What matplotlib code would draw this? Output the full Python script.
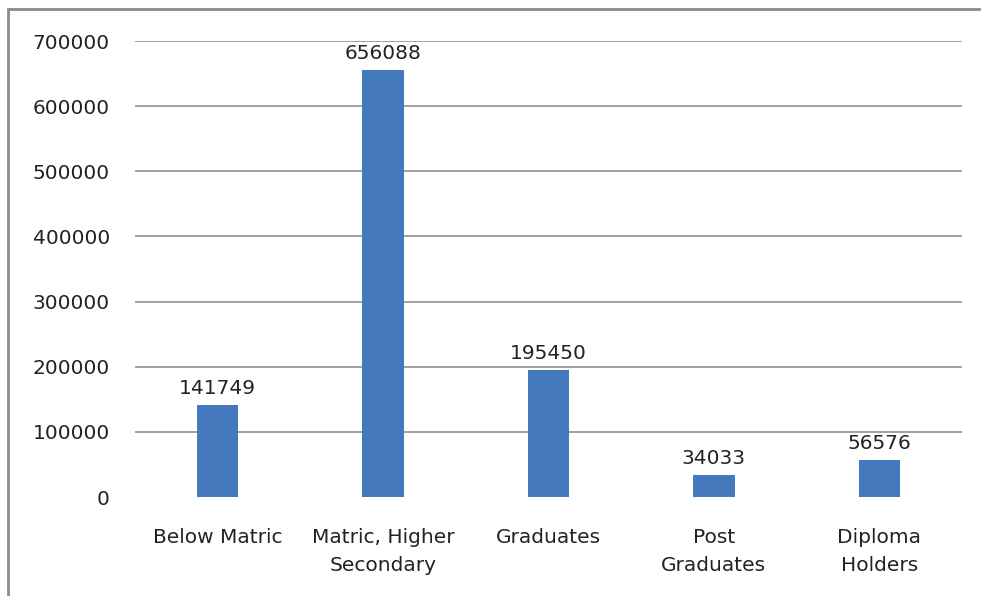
import matplotlib
matplotlib.use("Agg")
import matplotlib.pyplot as plt
from matplotlib.patches import Rectangle

categories = ["Below Matric", "Matric, Higher\nSecondary", "Graduates", "Post\nGraduates", "Diploma\nHolders"]
values = [141749, 656088, 195450, 34033, 56576]
yticks = [0, 100000, 200000, 300000, 400000, 500000, 600000, 700000]

plt.rcParams['font.family'] = ['DejaVu Sans']

fig = plt.figure(figsize=(9.81, 5.96), dpi=100)
ax = fig.add_axes([0.1376, 0.1661, 0.843, 0.7651])

x = list(range(len(categories)))
bars = ax.bar(x, values, width=0.25, color='#4479BD', zorder=3)
for b, v in zip(bars, values):
    ax.annotate(str(v), (b.get_x() + b.get_width() / 2, v), xytext=(0, 5),
                textcoords='offset points', ha='center', va='bottom',
                fontsize=14.5, color='#222222', zorder=4)

ax.set_xlim(-0.5, len(categories) - 0.5)
ax.set_ylim(0, 700000)
ax.set_yticks(yticks)
ax.set_yticklabels([str(t) for t in yticks], fontsize=14.5, color='#222222')
ax.set_xticks(x)
ax.set_xticklabels(categories, fontsize=14.5, color='#222222', linespacing=1.65)
ax.tick_params(axis='both', length=0)
ax.tick_params(axis='y', pad=18)
ax.tick_params(axis='x', pad=22)
for y in yticks[1:]:
    ax.axhline(y, color='#868686', lw=1.1, zorder=1)
for s in ax.spines.values():
    s.set_visible(False)

fig.patches.append(Rectangle((8 / 981, -0.05), 1.1, 1 - 9 / 596 + 0.05,
                             transform=fig.transFigure, fill=False,
                             edgecolor='#8a8a8a', lw=2))

fig.savefig('out.png', dpi=100)
